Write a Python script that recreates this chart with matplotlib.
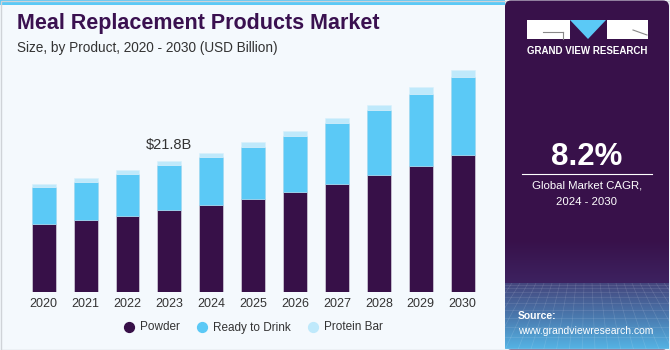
import matplotlib.pyplot as plt
import numpy as np
from matplotlib.patches import Rectangle, Polygon, FancyBboxPatch
from matplotlib.colors import LinearSegmentedColormap

# ── Data (USD Billion) ──────────────────────────────────────────────────
years = ['2020', '2021', '2022', '2023', '2024', '2025',
         '2026', '2027', '2028', '2029', '2030']
powder = [11.3, 11.9, 12.7, 13.6, 14.5, 15.5, 16.6, 18.0, 19.4, 21.0, 22.8]
ready_to_drink = [6.2, 6.4, 6.9, 7.5, 7.9, 8.6, 9.4, 10.1, 10.9, 11.9, 12.9]
protein_bar = [0.5, 0.7, 0.7, 0.7, 0.7, 0.8, 0.8, 0.9, 0.9, 1.2, 1.3]

c_powder = '#371048'
c_rtd = '#5bc9f6'
c_bar = '#bfe9fb'
bg = '#f4f9fd'
panel = '#38114a'

plt.rcParams['font.family'] = ['Liberation Sans', 'DejaVu Sans']

W, H = 670, 350
fig = plt.figure(figsize=(6.7, 3.5), dpi=100, facecolor=bg)

# background / decoration layer in pixel coordinates
deco = fig.add_axes([0, 0, 1, 1], zorder=0)
deco.set_xlim(0, W)
deco.set_ylim(H, 0)
deco.axis('off')
deco.add_patch(Rectangle((0, 0), 505, 4.5, color='#5bc9f6', lw=0))
deco.add_patch(Rectangle((0.5, 0.5), W - 1, H - 1, fill=False, ec='#cfd3d8', lw=1))

# right panel with gradient at the bottom
deco.add_patch(FancyBboxPatch((505, 0.5), 164, 349, boxstyle='round,pad=0,rounding_size=6',
                              fc=panel, ec='none'))
grad = np.linspace(0, 1, 100)[:, None]
upper = LinearSegmentedColormap.from_list('u', [panel, '#3d2260'])
lower = LinearSegmentedColormap.from_list('l', ['#44467d', '#4a78ad', '#55b3e4'])
deco.imshow(grad, extent=(505, 669, 283, 240), aspect='auto', cmap=upper, zorder=1)
deco.imshow(grad, extent=(505, 669, 349, 283), aspect='auto', cmap=lower, zorder=1)
# faint perspective grid on the gradient, kept inside the panel
clip = Rectangle((505, 283), 164, 66, transform=deco.transData, fill=False, lw=0)
deco.add_patch(clip)
for gx in np.arange(480, 700, 8):
    ln, = deco.plot([gx, 587 + (gx - 587) * 1.6], [283, 349], color='white', alpha=0.13, lw=0.5, zorder=2)
    ln.set_clip_path(clip)
for gy in [285, 288, 292, 297, 303, 310, 318, 327, 337, 348]:
    deco.plot([505, 669], [gy, gy], color='white', alpha=0.13, lw=0.5, zorder=2)

# logo
deco.add_patch(Rectangle((527, 20), 43, 19, color='white', lw=0, zorder=3))
deco.add_patch(Rectangle((607, 20), 41, 19, color='white', lw=0, zorder=3))
deco.add_patch(Polygon([(570, 20), (606, 20), (588, 39)], closed=True, color=c_rtd, lw=0, zorder=3))
deco.plot([543, 563], [32, 32], color='#888', lw=0.8, zorder=4)
deco.plot([563, 563], [32, 39], color='#888', lw=0.8, zorder=4)
deco.plot([633, 647], [30, 35], color='#888', lw=0.8, zorder=4)
deco.text(587.5, 51, 'GRAND VIEW RESEARCH', color='white', fontsize=7, fontweight='bold',
          ha='center', va='center', zorder=4)

deco.text(587, 157, '8.2%', color='white', fontsize=22.5, fontweight='bold',
          ha='center', va='center', zorder=4)
deco.plot([522, 652], [173.5, 173.5], color='white', lw=0.8, zorder=4)
deco.text(587, 186, 'Global Market CAGR,', color='white', fontsize=8.2,
          ha='center', va='center', zorder=4)
deco.text(587, 202, '2024 - 2030', color='white', fontsize=8.2,
          ha='center', va='center', zorder=4)
deco.text(518, 316, 'Source:', color='white', fontsize=7.5, fontweight='bold',
          ha='left', va='center', zorder=4)
deco.text(518, 331, 'www.grandviewresearch.com', color='white', fontsize=7.5,
          ha='left', va='center', zorder=4)

# titles
deco.text(17, 29, 'Meal Replacement Products Market', color='#3a1150', fontsize=15.5,
          fontweight='bold', ha='left', va='baseline')
deco.text(17, 52, 'Size, by Product, 2020 - 2030 (USD Billion)', color='#333333',
          fontsize=9.8, ha='left', va='baseline')

# legend
for mx, label, col in [(129, 'Powder', c_powder), (202, 'Ready to Drink', c_rtd),
                       (313, 'Protein Bar', c_bar)]:
    deco.scatter([mx], [327], s=50, color=col, zorder=4)
    deco.text(mx + 11, 327.5, label, fontsize=8.5, color='#333333', ha='left', va='center')

# ── Main chart ──────────────────────────────────────────────────────────
L, R, top, base = 10, 500, 60, 292
ax = fig.add_axes([L / W, (H - base) / H, (R - L) / W, (base - top) / H], zorder=1)
ax.patch.set_alpha(0)
x = np.arange(len(years))
step = 41.9
ax.set_xlim(-(43.7 - L) / step, (R - 43.7) / step)
ax.set_ylim(0, (base - top) * 21.8 / 131)

bw = 0.57
p = np.array(powder)
r = np.array(ready_to_drink)
b = np.array(protein_bar)
ax.bar(x, p, bw, color=c_powder, edgecolor='#c9c4d2', linewidth=0.6)
ax.bar(x, r, bw, bottom=p, color=c_rtd, edgecolor='#9fd6ee', linewidth=0.4)
ax.bar(x, b, bw, bottom=p + r, color=c_bar, edgecolor='#d8f1fc', linewidth=0.4)

ax.text(3, p[3] + r[3] + b[3] + 2.6, '$21.8B', ha='center', va='center',
        fontsize=10.5, color='#333333')

ax.set_xticks(x)
ax.set_xticklabels(years, fontsize=9, color='#333333')
ax.tick_params(axis='x', length=0, pad=4)
ax.set_yticks([])
for s in ax.spines.values():
    s.set_visible(False)

fig.savefig('out.png', dpi=100, facecolor=bg)
